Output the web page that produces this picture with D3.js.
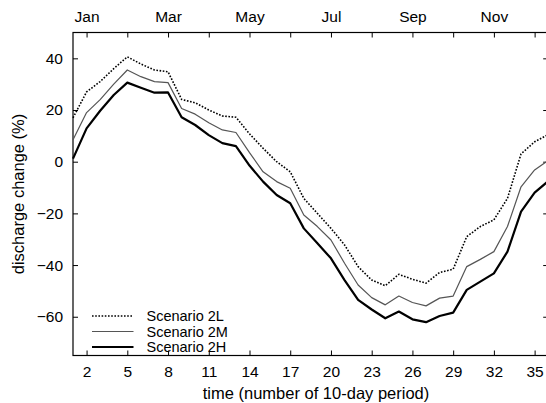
<!DOCTYPE html>
<html>
<head>
<meta charset="utf-8">
<script src="https://cdn.jsdelivr.net/npm/d3@7"></script>
<style>
  body { margin: 0; background: #fff; }
  svg { display: block; }
  text { font-family: "Liberation Sans", Arial, sans-serif; fill: #000; }
</style>
</head>
<body>
<svg id="svg1" width="546" height="403"></svg>
<script>
// periods 1..36 (10-day periods)
var periods = d3.range(1, 37);

var scenario2L = [17, 27, 31, 36, 40.6, 37.8, 35.5, 34.8, 24.1, 22.8, 20, 17.7,
                  17.2, 10.8, 5.2, 0, -3.9, -14.2, -20, -25.8, -32.2, -40.6, -45.8, -48,
                  -43.6, -45.5, -47, -42.9, -41.6, -29, -25.1, -22.5, -14.2, 3, 7.7, 10.5];
var scenario2M = [8.5, 19, 24, 30, 35.5, 32.9, 31, 30.6, 20.6, 18.4, 15.1, 12.3,
                  11.3, 3.5, -3.9, -7.7, -10.3, -20.6, -25.1, -30.3, -39.3, -47.7, -52.6, -55.4,
                  -52, -54.5, -55.8, -52.8, -52, -40.6, -37.8, -34.8, -25.1, -9.7, -3.2, 0.5];
var scenario2H = [1.2, 12.9, 19.7, 25.8, 30.6, 28.6, 26.7, 26.8, 17.2, 14.2, 10.3, 7.2,
                  6, -1.5, -7.7, -12.9, -16.1, -25.8, -31.6, -37.4, -45.8, -53.5, -57.2, -60.6,
                  -58, -61, -62.1, -59.7, -58.4, -49.6, -46.4, -43.2, -34.8, -19.3, -12, -7.5];

var xTicks = [2, 5, 8, 11, 14, 17, 20, 23, 26, 29, 32, 35];
var yTicks = [-60, -40, -20, 0, 20, 40];
var monthLabels = {2: 'Jan', 8: 'Mar', 14: 'May', 20: 'Jul', 26: 'Sep', 32: 'Nov'};

var series = [
    {name: 'Scenario 2L', values: scenario2L, color: '#000', width: 1.6, dash: '1.6,1.6'},
    {name: 'Scenario 2M', values: scenario2M, color: '#555', width: 1.2, dash: null},
    {name: 'Scenario 2H', values: scenario2H, color: '#000', width: 2.2, dash: null}
];

var plotLeft = 73, plotRight = 548.2, plotTop = 32.5, plotBottom = 355.5;
var tickFont = 15.5;

var svg = d3.select('#svg1');

var x = d3.scaleLinear().domain([1, 36]).range([plotLeft, plotRight]);
var y = d3.scaleLinear().domain([-75, 50]).range([plotBottom, plotTop]);

// axes with inward ticks
function styleAxis(g) {
    g.select('.domain').remove();
    g.selectAll('line').attr('stroke', '#000').attr('stroke-width', 1);
    g.selectAll('text').attr('font-size', tickFont).attr('font-family', '"Liberation Sans", Arial, sans-serif');
}

svg.append('g')
    .attr('transform', 'translate(0,' + plotBottom + ')')
    .call(d3.axisBottom(x).tickValues(xTicks).tickSizeInner(-5).tickSizeOuter(0).tickPadding(10))
    .call(styleAxis);

svg.append('g')
    .attr('transform', 'translate(0,' + plotTop + ')')
    .call(d3.axisTop(x).tickValues(xTicks).tickSizeInner(-5).tickSizeOuter(0).tickPadding(11)
        .tickFormat(function(d){ return monthLabels[d] || ''; }))
    .call(styleAxis);

svg.append('g')
    .attr('transform', 'translate(' + plotLeft + ',0)')
    .call(d3.axisLeft(y).tickValues(yTicks).tickSizeInner(-5).tickSizeOuter(0).tickPadding(10))
    .call(styleAxis);

svg.append('g')
    .attr('transform', 'translate(' + plotRight + ',0)')
    .call(d3.axisRight(y).tickValues(yTicks).tickSizeInner(-5).tickSizeOuter(0).tickFormat(''))
    .call(styleAxis);

// plot border
svg.append('rect')
    .attr('x', plotLeft).attr('y', plotTop)
    .attr('width', plotRight - plotLeft).attr('height', plotBottom - plotTop)
    .attr('fill', 'none').attr('stroke', '#000').attr('stroke-width', 1.2);

var line = d3.line()
    .x(function(d, i){ return x(periods[i]); })
    .y(function(d){ return y(d); });

svg.selectAll('path.series')
    .data(series)
    .enter()
    .append('path')
    .attr('class', 'series')
    .attr('d', function(d){ return line(d.values); })
    .attr('fill', 'none')
    .attr('stroke', function(d){ return d.color; })
    .attr('stroke-width', function(d){ return d.width; })
    .attr('stroke-dasharray', function(d){ return d.dash; })
    .attr('stroke-linejoin', 'round');

// legend
var legend = svg.append('g').attr('transform', 'translate(92,316)');
series.forEach(function(s, i) {
    legend.append('line')
        .attr('x1', 0).attr('x2', 41.5)
        .attr('y1', i * 15.5).attr('y2', i * 15.5)
        .attr('stroke', s.color)
        .attr('stroke-width', s.width)
        .attr('stroke-dasharray', s.dash);
    legend.append('text')
        .attr('x', 54.5).attr('y', i * 15.5)
        .attr('dy', '0.36em')
        .attr('font-size', 14.5)
        .text(s.name);
});

// axis titles
svg.append('text')
    .attr('x', 316).attr('y', 399)
    .attr('text-anchor', 'middle')
    .attr('font-size', 16.5)
    .text('time (number of 10-day period)');

svg.append('text')
    .attr('transform', 'translate(24,194) rotate(-90)')
    .attr('text-anchor', 'middle')
    .attr('font-size', 16.5)
    .text('discharge change (%)');
</script>
</body>
</html>
